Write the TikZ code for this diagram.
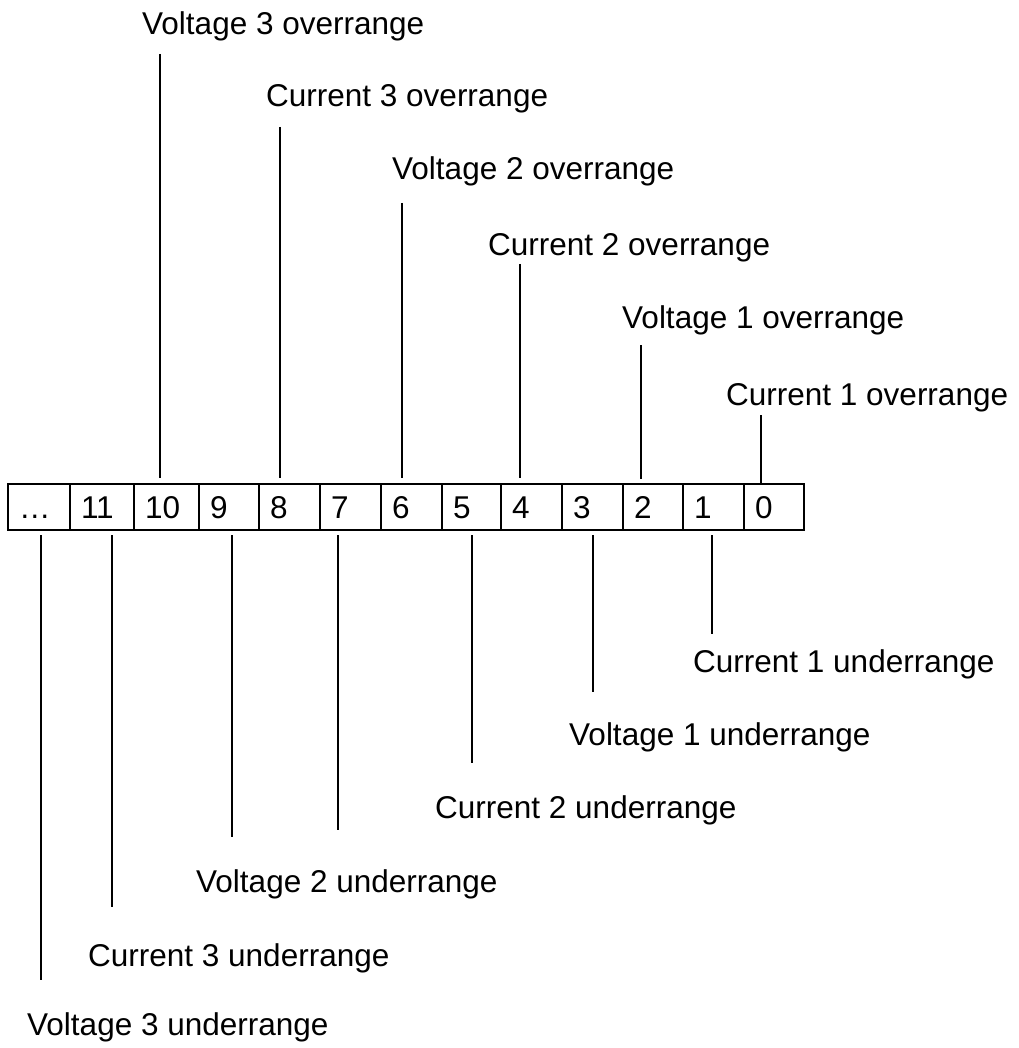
\documentclass[tikz,border=0pt]{standalone}
\usepackage{fontspec}
\setmainfont{Liberation Sans}
\usetikzlibrary{positioning}

\tikzset{
  cell/.style={draw, line width=2pt, outer sep=0pt, minimum height=46pt, inner xsep=11pt, inner ysep=0pt, text height=22pt, text depth=0pt, align=left},
  flag/.style={anchor=base west, inner sep=0pt},
  tick/.style={line width=2pt}
}

\begin{document}
\begin{tikzpicture}[x=1pt, y=-1pt, font=\fontsize{31.5}{38}\selectfont]
        \useasboundingbox (0,0) rectangle (1018,1048);

        \node[cell, anchor=west, text width=40pt] (cdots) at (8,507) {…};
        \node[cell, text width=42pt, right=0pt of cdots] (c11) {11};
        \node[cell, text width=43pt, right=0pt of c11] (c10) {10};
        \node[cell, text width=38pt, right=0pt of c10] (c9) {9};
        \node[cell, text width=39pt, right=0pt of c9] (c8) {8};
        \node[cell, text width=39pt, right=0pt of c8] (c7) {7};
        \node[cell, text width=39pt, right=0pt of c7] (c6) {6};
        \node[cell, text width=37pt, right=0pt of c6] (c5) {5};
        \node[cell, text width=39pt, right=0pt of c5] (c4) {4};
        \node[cell, text width=39pt, right=0pt of c4] (c3) {3};
        \node[cell, text width=38pt, right=0pt of c3] (c2) {2};
        \node[cell, text width=39pt, right=0pt of c2] (c1) {1};
        \node[cell, text width=38pt, right=0pt of c1] (c0) {0};

        \node[flag] (ov3) at (142,35) {Voltage 3 overrange};
        \node[flag] (oc3) at (266,107) {Current 3 overrange};
        \node[flag] (ov2) at (392,180) {Voltage 2 overrange};
        \node[flag] (oc2) at (488,256) {Current 2 overrange};
        \node[flag] (ov1) at (622,328) {Voltage 1 overrange};
        \node[flag] (oc1) at (726,405) {Current 1 overrange};

        \node[flag] (uc1) at (693,672) {Current 1 underrange};
        \node[flag] (uv1) at (569,745) {Voltage 1 underrange};
        \node[flag] (uc2) at (435,818) {Current 2 underrange};
        \node[flag] (uv2) at (196,892) {Voltage 2 underrange};
        \node[flag] (uc3) at (88,966) {Current 3 underrange};
        \node[flag] (uv3) at (27,1035) {Voltage 3 underrange};

        \coordinate (t10) at (160,54);
        \coordinate (t8) at (280,127);
        \coordinate (t6) at (402,203);
        \coordinate (t4) at (520,264);
        \coordinate (t2) at (641,345);
        \coordinate (t0) at (761,415);
        \draw[tick, shorten >=6pt] (t10) -- (t10 |- c10.north);
        \draw[tick, shorten >=6pt] (t8) -- (t8 |- c8.north);
        \draw[tick, shorten >=6pt] (t6) -- (t6 |- c6.north);
        \draw[tick, shorten >=6pt] (t4) -- (t4 |- c4.north);
        \draw[tick, shorten >=5pt] (t2) -- (t2 |- c2.north);
        \draw[tick] (t0) -- (t0 |- c0.north);

        \coordinate (bdots) at (41,980);
        \coordinate (b11) at (112,907);
        \coordinate (b9) at (232,837);
        \coordinate (b7) at (338,830);
        \coordinate (b5) at (472,763);
        \coordinate (b3) at (593,692);
        \coordinate (b1) at (712,634);
        \draw[tick, shorten <=5pt] (bdots |- cdots.south) -- (bdots);
        \draw[tick, shorten <=5pt] (b11 |- c11.south) -- (b11);
        \draw[tick, shorten <=5pt] (b9 |- c9.south) -- (b9);
        \draw[tick, shorten <=5pt] (b7 |- c7.south) -- (b7);
        \draw[tick, shorten <=5pt] (b5 |- c5.south) -- (b5);
        \draw[tick, shorten <=5pt] (b3 |- c3.south) -- (b3);
        \draw[tick, shorten <=5pt] (b1 |- c1.south) -- (b1);
\end{tikzpicture}
\end{document}
